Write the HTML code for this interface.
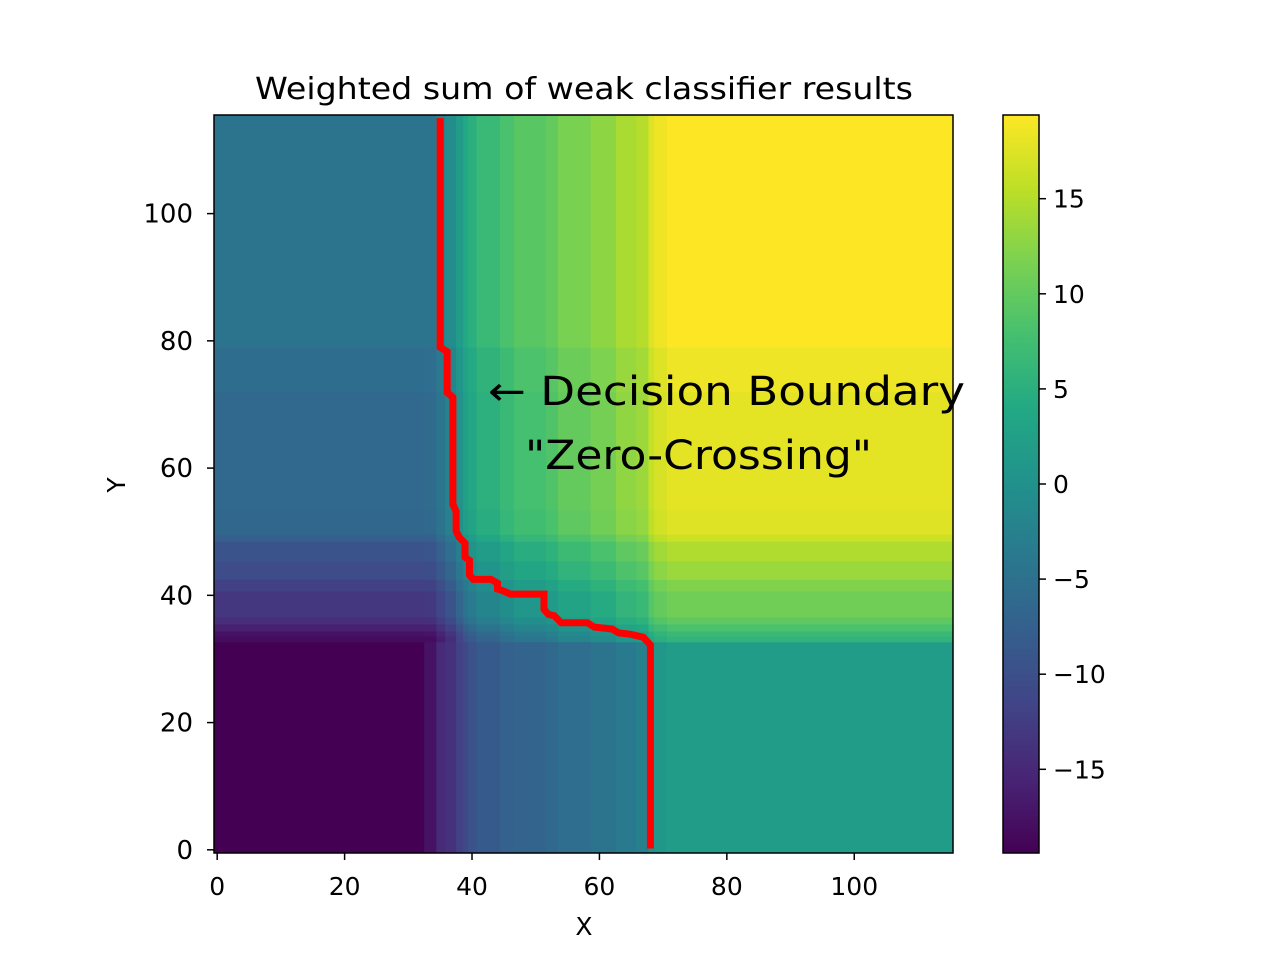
<!DOCTYPE html>
<html><head><meta charset="utf-8"><style>
body{margin:0;background:#fff}
svg{display:block;font-family:"DejaVu Sans","Liberation Sans",sans-serif}
</style></head><body>
<svg id="chart" width="1280" height="960" viewBox="0 0 1280 960" xmlns="http://www.w3.org/2000/svg">
<rect width="1280" height="960" fill="#fff"/>
<g id="heat"></g>
<polyline id="boundary" fill="none" stroke="#ff0000" stroke-width="7" stroke-linejoin="miter"/>
<rect x="214" y="115" width="739" height="738" fill="none" stroke="#000" stroke-width="1.5"/>
<g id="xt"></g>
<g id="yt"></g>
<text x="584" y="99" font-size="30" text-anchor="middle" textLength="658" lengthAdjust="spacingAndGlyphs">Weighted sum of weak classifier results</text>
<text x="584" y="935" font-size="25" text-anchor="middle">X</text>
<text x="125" y="485" font-size="25" text-anchor="middle" transform="rotate(-90 125 485)">Y</text>
<text x="488" y="405" font-size="40" textLength="477" lengthAdjust="spacingAndGlyphs">←  Decision Boundary</text>
<text x="525" y="469" font-size="40" textLength="347" lengthAdjust="spacingAndGlyphs">"Zero-Crossing"</text>
<defs><linearGradient id="cg" x1="0" y1="1" x2="0" y2="0"></linearGradient></defs>
<rect x="1003" y="115" width="36" height="738" fill="url(#cg)" stroke="#000" stroke-width="1.5"/>
<g id="ct"></g>
</svg>
<script>
// column contributions (x segment edges and values)
const xEdges=[-0.5,32.5,34.4,35.8,37.5,38.6,39.4,40.7,44.4,46.6,51.6,53.5,58.6,62.6,65.8,67.7,68.6,70.6,115.5];
const fx=[-4.66,-4.5,-2.7,-0.8,1.9,3.9,5.0,6.6,8.1,9.3,10.1,11.6,12.8,14.4,15.1,17.5,18.6,19.4];
// values in the bottom band (y < 32.7) per column segment
const bottomVals=[-19.4,-17.5,-14.7,-14.0,-12.0,-10.9,-9.7,-8.5,-7.4,-7.0,-6.2,-5.5,-4.5,-3.5,-2.5,0.0,1.0,1.9];
// row contributions
const yEdges=[-0.5,32.7,33.6,34.4,35.5,36.6,40.7,42.5,45.4,48.5,49.6,53.5,72,79,115.5];
const gy=[-17.4,-13.6,-12.8,-11.3,-9.7,-8.5,-7.4,-5.9,-4.7,-3.1,-1.9,-1.5,-1.0,0];
const bx=[35.0,35.0,36.1,36.1,37.0,37.0,37.5,37.5,38.0,38.9,38.9,39.6,39.6,40.2,43.0,44.0,44.0,44.9,46.0,51.3,51.3,52.0,52.9,54.0,58.1,59.2,62.0,63.0,64.8,66.9,68.0,68.0];
const by=[115.0,79.0,78.3,71.9,71.1,54.3,53.2,50.1,49.1,48.2,46.0,45.5,43.2,42.5,42.5,41.9,41.0,40.7,40.2,40.2,37.8,37.0,36.8,35.7,35.7,35.0,34.7,34.1,33.9,33.4,32.2,0.2];
const xTicks=[0,20,40,60,80,100];
const yTicks=[0,20,40,60,80,100];
const cTicks=[15,10,5,0,-5,-10,-15];
const vmin=-19.4,vmax=19.4;
const NS="http://www.w3.org/2000/svg";
const X=v=>214+(v+0.5)*739/116;
const Y=v=>853-(v+0.5)*738/116;
const C=v=>853-(v-vmin)*738/(vmax-vmin);
const vir=["#440154","#482475","#414487","#355f8d","#2a788e","#21918c","#22a884","#44bf70","#7ad151","#bddf26","#fde725"];
function hx(h){return [1,3,5].map(i=>parseInt(h.substr(i,2),16));}
function cmap(v){let t=Math.max(0,Math.min(1,(v-vmin)/(vmax-vmin)))*10;let i=Math.min(9,Math.floor(t)),f=t-i;
const a=hx(vir[i]),b=hx(vir[i+1]);return "rgb("+a.map((c,k)=>Math.round(c+(b[k]-c)*f)).join(",")+")";}
function mk(tag,attrs,parent){const e=document.createElementNS(NS,tag);for(const k in attrs)e.setAttribute(k,attrs[k]);parent.appendChild(e);return e;}
const heat=document.getElementById('heat');
for(let i=0;i<fx.length;i++)for(let j=0;j<gy.length;j++){
 const val=(j===0)?bottomVals[i]:fx[i]+gy[j];
 const r=mk('rect',{x:X(xEdges[i]),y:Y(yEdges[j+1]),width:X(xEdges[i+1])-X(xEdges[i])+0.5,height:Y(yEdges[j])-Y(yEdges[j+1])+0.5,fill:cmap(val)},heat);
 
 
}
document.getElementById('boundary').setAttribute('points',bx.map((v,i)=>X(v)+","+Y(by[i])).join(" "));
const xt=document.getElementById('xt');
xTicks.forEach(v=>{
 const l=mk('line',{x1:X(v),x2:X(v),y1:853,y2:860,stroke:"#000","stroke-width":1.5},xt);
 
 
 const t=mk('text',{x:X(v),y:895,"font-size":25,"text-anchor":"middle"},xt);t.textContent=v;
 
 
});
const yt=document.getElementById('yt');
yTicks.forEach(v=>{
 const l=mk('line',{x1:207,x2:214,y1:Y(v),y2:Y(v),stroke:"#000","stroke-width":1.5},yt);
 
 
 const t=mk('text',{x:193,y:Y(v)+9,"font-size":26,"text-anchor":"end"},yt);t.textContent=v;
 
 
});
const cg=document.getElementById('cg');
vir.forEach((c,i)=>mk('stop',{offset:(i*10)+"%","stop-color":c},cg));
const ct=document.getElementById('ct');
cTicks.forEach(v=>{
 const l=mk('line',{x1:1039,x2:1046,y1:C(v),y2:C(v),stroke:"#000","stroke-width":1.5},ct);
 
 
 const t=mk('text',{x:1053,y:C(v)+9,"font-size":25},ct);t.textContent=(v<0?"\u2212"+(-v):v);
 
 
});
</script>
</body></html>
